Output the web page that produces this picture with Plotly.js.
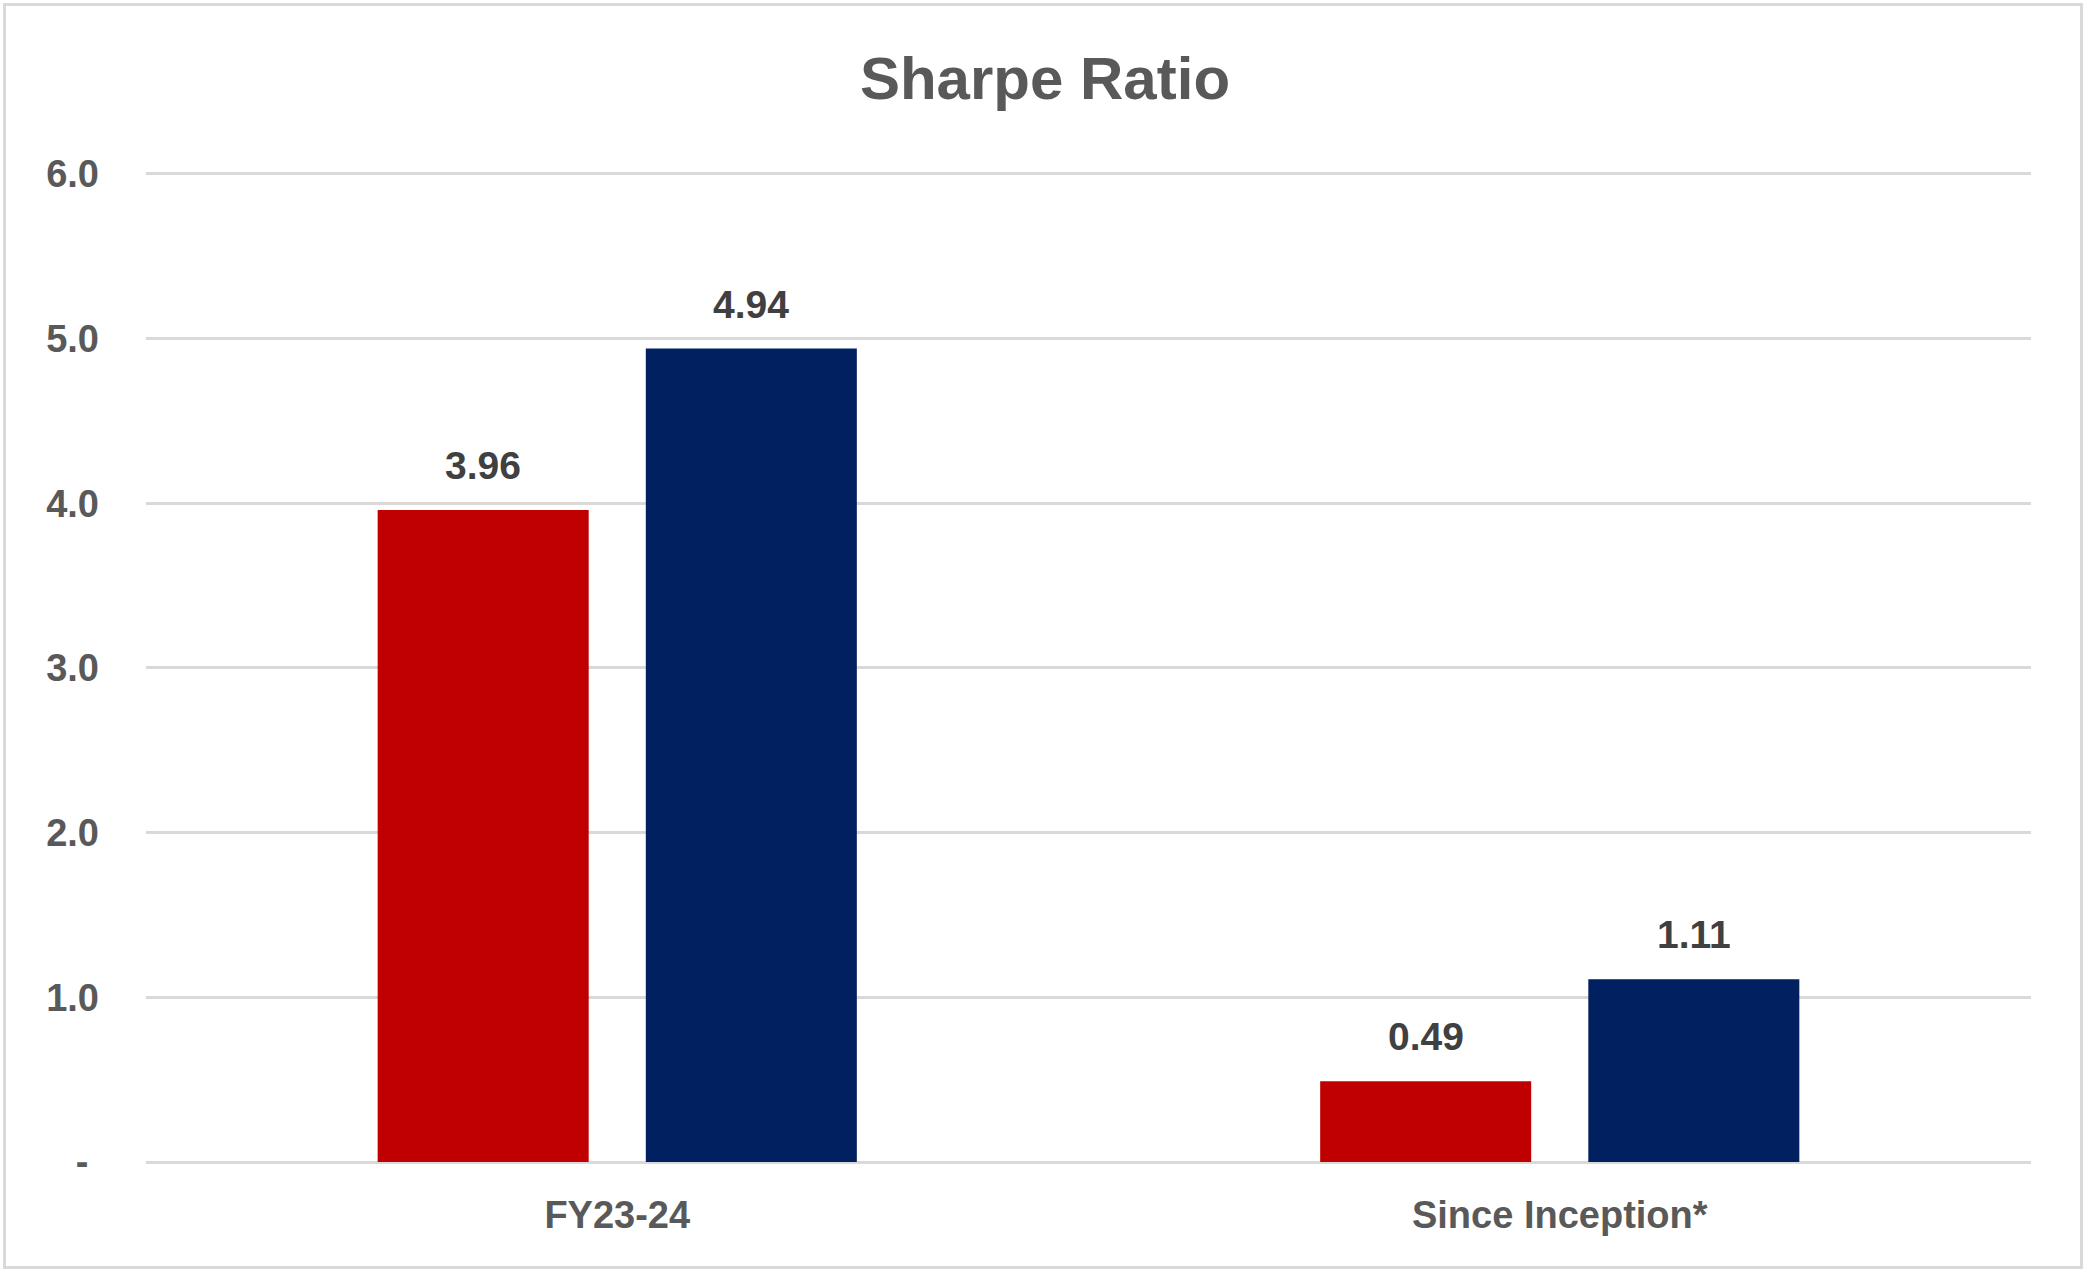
<!DOCTYPE html>
<html>
<head>
<meta charset="utf-8">
<script src="https://cdn.plot.ly/plotly-3.0.1.min.js"></script>
<style>
  html, body { margin: 0; padding: 0; background: #fff; }
  #wrap { position: relative; width: 2090px; height: 1274px; }
  #sharpe-plot { width: 2090px; height: 1274px; }
  #frame {
    position: absolute; left: 3px; top: 3px; width: 2080px; height: 1266px;
    border: 3px solid #d9d9d9; box-sizing: border-box; pointer-events: none;
  }
</style>
</head>
<body>
<div id="wrap">
  <div id="sharpe-plot"></div>
  <div id="frame"></div>
</div>
<script>
// Sharpe ratio, two periods, two series
var categories = ['FY23-24', 'Since Inception*'];
var seriesA = [3.96, 0.49];
var seriesB = [4.94, 1.11];
var yTickVals = [0, 1, 2, 3, 4, 5, 6];
var yTickText = ['-\u00a0', '1.0', '2.0', '3.0', '4.0', '5.0', '6.0'];

document.addEventListener('DOMContentLoaded', function() {
  var font = 'Liberation Sans, Arial, sans-serif';

  var traces = [
    {
      type: 'bar',
      x: categories,
      y: seriesA,
      name: 'Series A',
      marker: { color: '#C00000' },
      hoverinfo: 'x+y'
    },
    {
      type: 'bar',
      x: categories,
      y: seriesB,
      name: 'Series B',
      marker: { color: '#002060' },
      hoverinfo: 'x+y'
    }
  ];

  // value labels above each bar
  var annotations = [];
  [seriesA, seriesB].forEach(function(vals, s) {
    vals.forEach(function(v, i) {
      annotations.push({
        x: categories[i],
        y: v,
        xref: 'x',
        yref: 'y',
        text: v.toFixed(2),
        showarrow: false,
        yanchor: 'bottom',
        xshift: s === 0 ? -134 : 134,
        yshift: 21,
        font: { family: font, size: 39, color: '#404040', weight: 'bold' }
      });
    });
  });

  var layout = {
    title: {
      text: 'Sharpe Ratio',
      font: { family: font, size: 60, color: '#595959', weight: 'bold' },
      x: 0.5,
      xanchor: 'center',
      y: 1 - 99 / 1274,
      yanchor: 'bottom'
    },
    barmode: 'group',
    bargap: 0.431,
    bargroupgap: 0.213,
    showlegend: false,
    xaxis: {
      type: 'category',
      tickfont: { family: font, size: 38, color: '#595959', weight: 'bold' },
      showline: false,
      ticks: '',
      ticklabelstandoff: 27,
      fixedrange: true
    },
    yaxis: {
      range: [0, 6.03],
      tickvals: yTickVals,
      ticktext: yTickText,
      tickfont: { family: font, size: 38, color: '#595959', weight: 'bold' },
      showgrid: true,
      gridcolor: '#d9d9d9',
      gridwidth: 3,
      zeroline: true,
      zerolinecolor: '#d9d9d9',
      zerolinewidth: 3,
      showline: false,
      ticks: '',
      ticklabelstandoff: 46,
      fixedrange: true
    },
    annotations: annotations,
    margin: { l: 146, r: 59, t: 169, b: 112 },
    paper_bgcolor: '#ffffff',
    plot_bgcolor: '#ffffff',
    font: { family: font }
  };

  var config = { displayModeBar: false, staticPlot: true };

  Plotly.newPlot('sharpe-plot', traces, layout, config);
});
</script>
</body>
</html>
